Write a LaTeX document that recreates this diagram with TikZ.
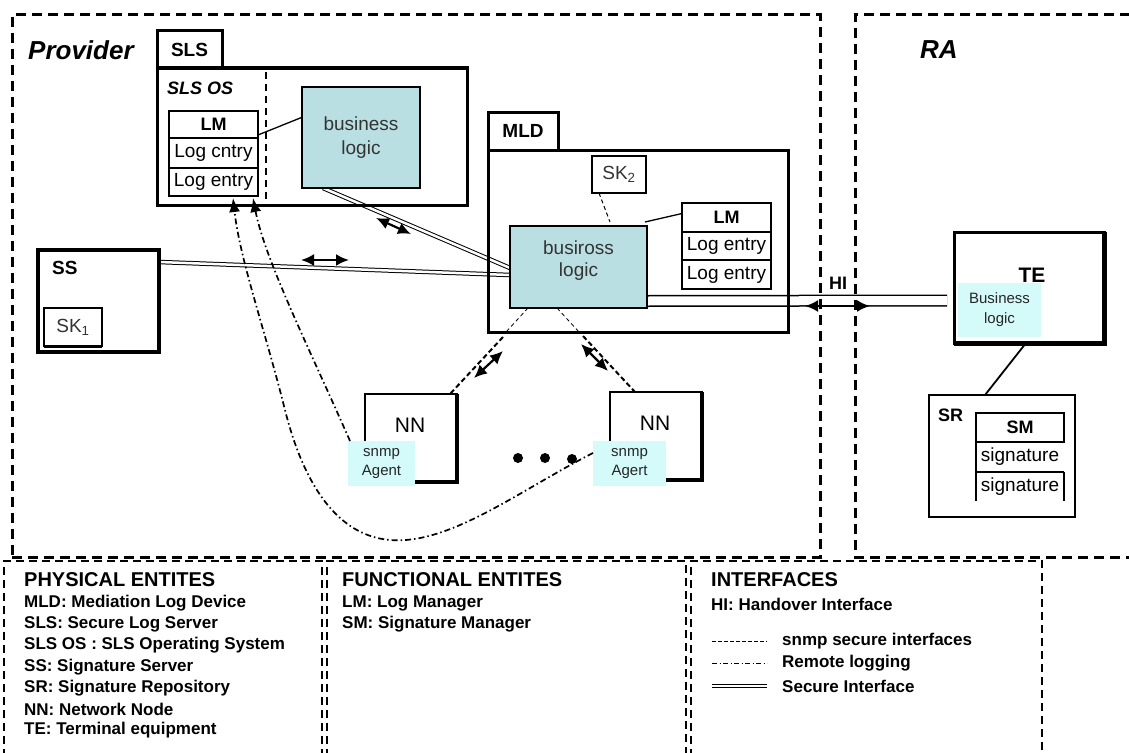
\documentclass[tikz,border=0pt]{standalone}
\usepackage{fontspec}
\setmainfont{Liberation Sans}
\usetikzlibrary{arrows.meta,calc,backgrounds}
\definecolor{blfill}{RGB}{185,223,226}
\definecolor{agfill}{RGB}{212,250,250}
\newcommand{\fsz}[2]{\fontsize{#1pt}{#2pt}\selectfont}
\begin{document}
\begin{tikzpicture}[x=1pt,y=-1pt,
  region/.style={line width=3pt, dash pattern=on 10pt off 6pt},
  legline/.style={line width=2.5pt, dash pattern=on 8pt off 5pt},
  nw/.style={anchor=north west, inner sep=0pt, outer sep=0pt},
  heavy/.style={nw, draw, line width=3pt},
  lite/.style={nw, draw, line width=1.5pt},
  cell/.style={nw, draw, line width=1.3pt, minimum width=89pt, font=\fsz{19}{21}},
  bl/.style={nw, draw, line width=1.2pt, fill=blfill, align=center, text=black!80},
  agent/.style={nw, fill=agfill, align=center, text=black!85},
  txt/.style={inner sep=0pt, anchor=west},
  legtxt/.style={inner sep=0pt, anchor=west, font=\bfseries\fsz{17}{19}},
  leghead/.style={inner sep=0pt, anchor=west, font=\bfseries\fsz{20}{22}},
  conn/.style={line width=1.3pt},
  secure/.style={double, line width=1pt, double distance=2.5pt},
  hiline/.style={double, line width=1.5pt, double distance=9pt},
  snmpin/.style={line width=0.8pt, dash pattern=on 4pt off 3pt},
  snmpout/.style={line width=2pt, dash pattern=on 5pt off 3pt},
  remote/.style={line width=1.7pt, dash pattern=on 6pt off 3pt on 1.5pt off 3pt},
  biarrow/.style={{Latex[length=13pt,width=12pt]}-{Latex[length=13pt,width=12pt]}, line width=2.2pt},
  uptip/.style={-{Latex[length=14pt,width=11pt]}}
]
\useasboundingbox (0,0) rectangle (1129,752);

% ---------- boxes ----------
\node[heavy, minimum width=310pt, minimum height=137pt] (sls) at (157,68) {};
\node[heavy, minimum width=65pt, minimum height=37pt, font=\bfseries\fsz{19}{20}] (slstab) at (157,31) {SLS};
\node[heavy, minimum width=300pt, minimum height=182pt] (mld) at (488,150) {};
\node[heavy, minimum width=70pt, minimum height=38pt, font=\bfseries\fsz{19}{20}] (mldtab) at (488,112) {MLD};
\node[nw, draw, line width=3.5pt, minimum width=121pt, minimum height=102pt] (ss) at (38,250) {};

% ---------- dashed regions ----------
\node[nw, draw, region, minimum width=808pt, minimum height=542pt] (prov) at (12,15) {};
\coordinate (ra1) at (1130,15);
\coordinate (ra2) at (855,15);
\coordinate (ra3) at (855,557);
\coordinate (ra4) at (1130,557);
\draw[region] (ra1) -- (ra2) -- (ra3) -- (ra4);
\node[txt, font=\bfseries\itshape\fsz{26}{28}] (provtxt) at (28,50) {Provider};
\node[txt, font=\bfseries\itshape\fsz{26}{28}] (ratxt) at (920,50) {RA};

% ---------- SLS content ----------
\node[txt, font=\bfseries\itshape\fsz{18}{20}] (slsos) at (167,88) {SLS OS};
\coordinate (osd1) at (266,72);
\coordinate (osd2) at (266,203);
\draw[line width=2.5pt, dash pattern=on 7pt off 5pt] (osd1) -- (osd2);
\node[cell, minimum height=27pt, font=\bfseries\fsz{18}{20}] (slslm) at (169,111) {LM};
\node[cell, minimum height=30pt] (slse1) at (169,138) {Log cntry};
\node[cell, minimum height=28pt] (slse2) at (169,168) {Log entry};
\node[bl, minimum width=118pt, minimum height=101pt, font=\fsz{19}{24}] (slsbl) at (302,87) {business\\logic};
\draw[conn] ([yshift=3pt]slslm.south east) -- ($(slsbl.north west)!0.3!(slsbl.south west)$);

% ---------- MLD content ----------
\node[lite, line width=2pt, minimum width=54pt, minimum height=37pt, font=\fsz{19}{20}, text=black!80] (sk2) at (592,156) {SK\textsubscript{2}};
\node[bl, minimum width=137pt, minimum height=82pt] (mldbl) at (510,226) {};
\node[font=\fsz{19}{22}, align=center, text=black!80] (mldbltxt) at (578.5,261) {busiross\\logic};
\node[cell, minimum height=29pt, font=\bfseries\fsz{18}{20}] (mldlm) at (682,203) {LM};
\node[cell, minimum height=28pt] (mlde1) at (682,232) {Log entry};
\node[cell, minimum height=29pt] (mlde2) at (682,260) {Log entry};
\draw[conn] ([yshift=4pt]mldlm.west) -- ($(mldbl.north east)+(-2,-4)$);
\draw[snmpin, line width=1pt] ($(sk2.south west)+(7,0)$) -- ($(mldbl.north)+(31.5,-4)$);

% ---------- SS ----------
\node[txt, font=\bfseries\fsz{19}{20}] (sstxt) at (52,268) {SS};
\node[lite, minimum width=58pt, minimum height=38pt, font=\fsz{19}{20}, text=black!80] (sk1) at (44,308) {SK\textsubscript{1}};
\draw[line width=3pt] (sk1.south west) -- (sk1.south east);

% ---------- NN ----------
\node[nw, draw, line width=2pt, minimum width=92pt, minimum height=88pt] (nn1) at (365,394) {};
\draw[line width=4pt] (nn1.north east) -- (nn1.south east) -- (nn1.south west);
\node[font=\fsz{21}{22}] (nn1t) at (410,425) {NN};
\node[agent, minimum width=67pt, minimum height=45pt, font=\fsz{15}{19}] (agent1) at (348,441) {snmp\\Agent};
\node[nw, draw, line width=2pt, minimum width=92pt, minimum height=88pt] (nn2) at (610,392) {};
\draw[line width=4pt] (nn2.north east) -- (nn2.south east) -- (nn2.south west);
\node[font=\fsz{21}{22}] (nn2t) at (655,423) {NN};
\node[agent, minimum width=73pt, minimum height=45pt, font=\fsz{15}{19}] (agent2) at (593,441) {snmp\\Agert};
\node[circle, fill, minimum size=10pt, inner sep=0pt] (dot1) at (518,458) {};
\node[circle, fill, minimum size=10pt, inner sep=0pt] (dot2) at (545,458) {};
\node[circle, fill, minimum size=10pt, inner sep=0pt] (dot3) at (572,459) {};

% ---------- TE / SR ----------
\node[nw, draw, line width=3pt, minimum width=150pt, minimum height=111pt] (te) at (954,232) {};
\draw[line width=5pt] (te.north east) -- (te.south east) -- (te.south west);
\node[font=\bfseries\fsz{21}{22}] (tetxt) at (1032,275) {TE};
\node[agent, minimum width=83pt, minimum height=54pt, font=\fsz{15}{20}] (tebl) at (958,283) {Business\\logic};
\node[lite, minimum width=146pt, minimum height=122pt] (sr) at (929,395) {};
\node[txt, font=\bfseries\fsz{18}{20}] (srtxt) at (938,415) {SR};
\node[nw, minimum width=88pt, minimum height=29pt, font=\bfseries\fsz{18}{20}] (sm) at (976,413) {SM};
\node[nw, minimum width=88pt, minimum height=30pt, font=\fsz{19}{20}] (sig1) at (976,442) {signature};
\node[nw, minimum width=88pt, minimum height=29pt, font=\fsz{19}{20}] (sig2) at (976,472) {signature};
\draw[line width=1.3pt] (sm.north west) rectangle (sm.south east);
\draw[line width=1.3pt] (sm.south west) -- (sig2.south west);
\draw[line width=1.3pt] (sig1.south west) -- (sig1.south east);
\draw[line width=1.3pt] (sig2.north east) -- (sig2.south east);
\draw[conn, line width=1.8pt] ($(te.south)+(-3,0)$) -- ($(sr.north)+(-17,0)$);

% ---------- secure interfaces (under the boxes) ----------
\begin{pgfonlayer}{background}
\draw[secure] ($(ss.north east)+(0,12)$) -- ($(mldbl.west)+(0,8)$);
\draw[secure] ($(slsbl.south west)+(21,0)$) -- ($(mldbl.west)+(0,1)$);
\draw[hiline] ($(mldbl.south east)+(0,-7)$) -- ($(te.west)+(-7,13)$);
\end{pgfonlayer}

% ---------- HI ----------
\node[font=\bfseries\fsz{18}{20}] (hitxt) at (838,283) {HI};
\coordinate (hia) at (805,306);
\coordinate (hib) at (870,306);
\draw[biarrow] (hia) -- (hib);

% ---------- snmp secure interfaces ----------
\draw[snmpin] ($(mldbl.south west)+(18,0)$) -- (506,332);
\draw[snmpout] (503,337) -- ($(nn1.north east)+(-7,0)$);
\draw[snmpin] ($(mldbl.south west)+(47,0)$) -- (579,332);
\draw[snmpout] (583,336) -- ($(nn2.north)+(-21,0)$);
\coordinate (sa1) at (474,378);
\coordinate (sa2) at (503,351);
\draw[biarrow] (sa1) -- (sa2);
\coordinate (sb1) at (581,344);
\coordinate (sb2) at (608,371);
\draw[biarrow] (sb1) -- (sb2);

% ---------- secure interface arrows ----------
\coordinate (ssa1) at (301,260);
\coordinate (ssa2) at (349,260);
\draw[biarrow] (ssa1) -- (ssa2);
\coordinate (sla1) at (376,218);
\coordinate (sla2) at (411,234);
\draw[biarrow] (sla1) -- (sla2);

% ---------- remote logging ----------
\draw[remote, uptip] ($(agent1.north west)+(2,0)$) .. controls (310,350) and (265,260) .. ($(slse2.south east)+(-5,2)$);
\draw[remote, uptip] ($(agent2.north west)+(0,12)$) .. controls (520,490) and (450,545) .. (390,540)
   .. controls (330,535) and (300,470) .. (285,410)
   .. controls (265,330) and (240,260) .. ($(slse2.south east)+(-25,2)$);

% ---------- legend ----------
\coordinate (l1a) at (4,770);  \coordinate (l1b) at (4,561);
\coordinate (l1c) at (322,561); \coordinate (l1d) at (322,770);
\draw[legline] (l1a) -- (l1b) -- (l1c) -- (l1d);
\coordinate (l2a) at (327,770);  \coordinate (l2b) at (327,561);
\coordinate (l2c) at (686,561); \coordinate (l2d) at (686,770);
\draw[legline] (l2a) -- (l2b) -- (l2c) -- (l2d);
\coordinate (l3a) at (691,770);  \coordinate (l3b) at (691,561);
\coordinate (l3c) at (1042,561); \coordinate (l3d) at (1042,770);
\draw[legline] (l3a) -- (l3b) -- (l3c) -- (l3d);

\node[leghead] (ph) at (24,580) {PHYSICAL ENTITES};
\node[legtxt] (ph1) at (24,603) {MLD: Mediation Log Device};
\node[legtxt] (ph2) at (24,624) {SLS: Secure Log Server};
\node[legtxt] (ph3) at (24,645) {SLS OS : SLS Operating System};
\node[legtxt] (ph4) at (24,667) {SS: Signature Server};
\node[legtxt] (ph5) at (24,688) {SR: Signature Repository};
\node[legtxt] (ph6) at (24,709) {NN: Network Node};
\node[legtxt] (ph7) at (24,730) {TE: Terminal equipment};

\node[leghead] (fu) at (342,580) {FUNCTIONAL ENTITES};
\node[legtxt] (fu1) at (342,603) {LM: Log Manager};
\node[legtxt] (fu2) at (342,624) {SM: Signature Manager};

\node[leghead] (in) at (711,580) {INTERFACES};
\node[legtxt] (in1) at (711,604) {HI: Handover Interface};
\node[legtxt] (in2) at (782,641) {snmp secure interfaces};
\node[legtxt] (in3) at (782,663) {Remote logging};
\node[legtxt] (in4) at (782,686) {Secure Interface};
\coordinate (s1a) at (712,641); \coordinate (s1b) at (767,641);
\draw[line width=1pt, dash pattern=on 3.5pt off 2.5pt] (s1a) -- (s1b);
\coordinate (s2a) at (712,663); \coordinate (s2b) at (767,663);
\draw[line width=1pt, dash pattern=on 5pt off 2.5pt on 1pt off 2.5pt] (s2a) -- (s2b);
\coordinate (s3a) at (712,686); \coordinate (s3b) at (767,686);
\draw[double, line width=1.2pt, double distance=2.5pt] (s3a) -- (s3b);
\end{tikzpicture}
\end{document}
